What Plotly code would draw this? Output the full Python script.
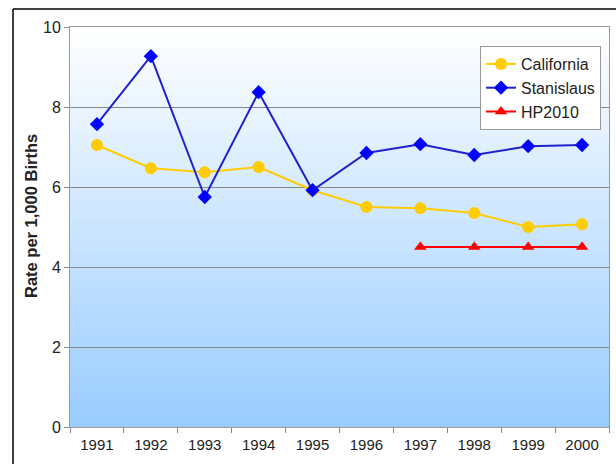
import plotly.graph_objects as go

years = ["1991", "1992", "1993", "1994", "1995", "1996", "1997", "1998", "1999", "2000"]
california = [7.05, 6.47, 6.37, 6.50, 5.92, 5.50, 5.47, 5.35, 5.00, 5.07]
stanislaus = [7.57, 9.27, 5.75, 8.37, 5.92, 6.85, 7.07, 6.80, 7.02, 7.05]
hp_years = ["1997", "1998", "1999", "2000"]
hp2010 = [4.5, 4.5, 4.5, 4.5]
y_ticks = [0, 2, 4, 6, 8, 10]

W, H = 616, 464
L, R, T, B = 70, 7, 27, 37
pw, ph = W - L - R, H - T - B

def px_x(p):
    return (p - L) / pw

def px_y(p):
    return (H - B - p) / ph

fig = go.Figure()
fig.add_trace(go.Scatter(x=years, y=california, name="California", mode="lines+markers",
                         line=dict(color="#FFCC00", width=2),
                         marker=dict(symbol="circle", size=12, color="#FFCC00")))
fig.add_trace(go.Scatter(x=years, y=stanislaus, name="Stanislaus", mode="lines+markers",
                         line=dict(color="#2020CC", width=2),
                         marker=dict(symbol="diamond", size=11, color="#0000FF")))
fig.add_trace(go.Scatter(x=hp_years, y=hp2010, name="HP2010", mode="lines+markers",
                         line=dict(color="#FF0000", width=2),
                         marker=dict(symbol="triangle-up", size=11, color="#FF0000")))

shapes = []
n = 60
top = (255, 255, 255)
bot = (153, 204, 255)
for i in range(n):
    f = (i + 0.5) / n
    c = tuple(round(bot[k] + (top[k] - bot[k]) * f) for k in range(3))
    shapes.append(dict(type="rect", xref="x domain", yref="y domain",
                       x0=0, x1=1, y0=i / n, y1=(i + 1) / n + 0.002,
                       fillcolor="rgb(%d,%d,%d)" % c, line=dict(width=0), layer="below"))
# outer black frame (top and left)
shapes.append(dict(type="line", xref="paper", yref="paper", x0=px_x(13), x1=px_x(W + 2),
                   y0=px_y(9), y1=px_y(9), line=dict(color="black", width=1.5)))
shapes.append(dict(type="line", xref="paper", yref="paper", x0=px_x(13), x1=px_x(13),
                   y0=px_y(9), y1=px_y(H + 2), line=dict(color="black", width=1.5)))

fig.update_layout(
    width=W, height=H,
    margin=dict(l=L, r=R, t=T, b=B, autoexpand=False),
    paper_bgcolor="white", plot_bgcolor="white",
    font=dict(family="Liberation Sans, Arial, sans-serif", size=15, color="#222222"),
    shapes=shapes,
    showlegend=True,
    legend=dict(x=px_x(480), y=px_y(46), xanchor="left", yanchor="top",
                bgcolor="white", bordercolor="#999999", borderwidth=1,
                font=dict(size=16), tracegroupgap=0, itemwidth=30),
    xaxis=dict(type="category", tickson="boundaries", ticks="outside", ticklen=5,
               tickcolor="#888888", showline=True, linecolor="#999999", mirror=True,
               showgrid=False, tickfont=dict(size=15), range=[-0.5, 9.5], automargin=False,
               ticklabelstandoff=4),
    yaxis=dict(range=[0, 10], tickvals=y_ticks, ticks="outside", ticklen=5,
               tickcolor="#888888", showline=True, linecolor="#999999", mirror=True,
               showgrid=True, gridcolor="#888888", gridwidth=1, zeroline=False,
               tickfont=dict(size=16), automargin=False),
    annotations=[dict(text="<b>Rate per 1,000 Births</b>", textangle=-90,
                      xref="paper", yref="paper", x=px_x(31), y=px_y(216),
                      xanchor="center", yanchor="middle", showarrow=False,
                      font=dict(size=16.5, color="#222222"))],
)

fig.write_html("out.html", config={"displayModeBar": False},
               post_script="document.body.style.margin='0px';")
